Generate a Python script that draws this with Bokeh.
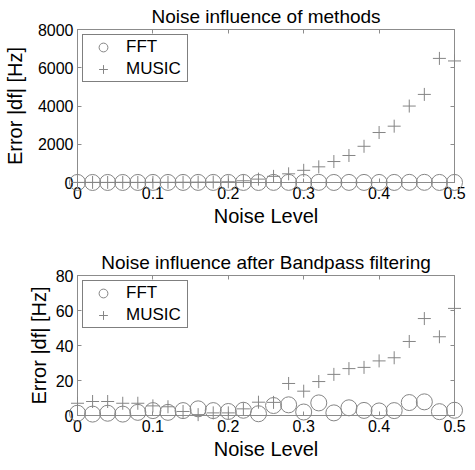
from bokeh.plotting import figure
from bokeh.models import Range1d, LinearAxis, FixedTicker, Legend, LegendItem, NumeralTickFormatter
from bokeh.layouts import column
from bokeh.embed import file_html
from bokeh.resources import INLINE

noise_level = [0.00, 0.02, 0.04, 0.06, 0.08, 0.10, 0.12, 0.14, 0.16, 0.18, 0.20, 0.22, 0.24,
               0.26, 0.28, 0.30, 0.32, 0.34, 0.36, 0.38, 0.40, 0.42, 0.44, 0.46, 0.48, 0.50]

fft_raw = [2, 1, 2, 1, 3, 4, 3, 4, 5, 4, 3, 4, 2, 6, 7, 3, 8, 2, 5, 4, 3, 4, 8, 9, 3, 4]
music_raw = [5, 8, 6, 10, 7, 12, 9, 15, 20, 25, 40, 90, 177, 321, 454, 637, 819, 1096,
             1412, 1893, 2613, 2945, 3997, 4606, 6489, 6356]

fft_bp = [1.3, 0.8, 1.3, 0.8, 1.8, 2.8, 1.8, 2.8, 3.8, 2.8, 2.3, 3.0, 1.0, 5.7, 6.1, 2.0,
          7.2, 1.5, 4.4, 2.9, 2.6, 2.8, 7.4, 7.8, 2.2, 3.0]
music_bp = [7, 8, 8, 7, 7, 5.5, 5, 2.3, 0.5, 1.5, 1.5, 3.8, 7.6, 7.5, 18.3, 13.9, 19.4, 23.5,
            26.8, 27.5, 31.2, 33, 42.3, 55.4, 45, 61.2]

x_ticks = [0, 0.1, 0.2, 0.3, 0.4, 0.5]
y_ticks_raw = [0, 2000, 4000, 6000, 8000]
y_ticks_bp = [0, 20, 40, 60, 80]

title_raw = "Noise influence of methods"
title_bp = "Noise influence after Bandpass filtering"
x_label = "Noise Level"
y_label = "Error |df| [Hz]"
series_names = ["FFT", "MUSIC"]

FONT = "Liberation Sans"
GRAY = "#858585"
FRAME = "#8c8c8c"


def style_axis(ax, ticks, show_labels=True, label=None, label_standoff=4):
    ax.ticker = FixedTicker(ticks=ticks)
    ax.major_tick_in = 4
    ax.major_tick_out = 0
    ax.minor_tick_in = 0
    ax.minor_tick_out = 0
    ax.major_tick_line_color = FRAME
    ax.axis_line_color = FRAME
    if show_labels:
        ax.major_label_text_font = FONT
        ax.major_label_text_font_size = "16px"
        ax.major_label_text_color = "black"
        ax.major_label_standoff = 4
        ax.formatter = NumeralTickFormatter(format="0.[0]")
    else:
        ax.major_label_text_color = None
        ax.major_label_standoff = 0
    if label:
        ax.axis_label = label
        ax.axis_label_text_font = FONT
        ax.axis_label_text_font_size = "20px"
        ax.axis_label_text_font_style = "normal"
        ax.axis_label_text_color = "black"
        ax.axis_label_standoff = label_standoff


def make_plot(title, fft, music, yticks, height, top_border, bottom_border, ylab_standoff):
    p = figure(width=467, height=height, output_backend="svg", toolbar_location=None,
               x_range=Range1d(x_ticks[0], x_ticks[-1]), y_range=Range1d(yticks[0], yticks[-1]),
               min_border_left=69, min_border_right=13,
               min_border_top=top_border, min_border_bottom=bottom_border,
               title=title)
    p.title.align = "center"
    p.title.text_font = FONT
    p.title.text_font_size = "19px"
    p.title.text_font_style = "normal"
    p.title.text_color = "black"
    p.title.standoff = 6
    p.grid.visible = False
    p.outline_line_color = FRAME
    p.background_fill_color = "white"
    p.border_fill_color = "white"

    style_axis(p.xaxis[0], x_ticks, True, x_label, 3)
    style_axis(p.yaxis[0], yticks, True, y_label, ylab_standoff)
    top_ax = LinearAxis()
    style_axis(top_ax, x_ticks, False)
    right_ax = LinearAxis()
    style_axis(right_ax, yticks, False)
    p.add_layout(top_ax, "above")
    p.add_layout(right_ax, "right")

    r1 = p.scatter(noise_level, fft, marker="circle", size=16, fill_color=None,
                   line_color=GRAY, line_width=1)
    r2 = p.scatter(noise_level, music, marker="cross", size=13,
                   line_color=GRAY, line_width=1)
    r1.level = "overlay"
    r2.level = "overlay"

    legend = Legend(items=[LegendItem(label=series_names[0], renderers=[r1]),
                           LegendItem(label=series_names[1], renderers=[r2])],
                    location="top_left")
    legend.margin = 5
    legend.padding = 1
    legend.spacing = 0
    legend.glyph_width = 38
    legend.glyph_height = 22
    legend.label_height = 22
    legend.label_width = 60
    legend.label_standoff = 4
    legend.label_text_font = FONT
    legend.label_text_font_size = "17px"
    legend.label_text_color = "black"
    legend.border_line_color = "#7f7f7f"
    legend.border_line_width = 1
    legend.border_line_alpha = 1
    legend.background_fill_color = "white"
    legend.background_fill_alpha = 1
    p.add_layout(legend)
    return p


p1 = make_plot(title_raw, fft_raw, music_raw, y_ticks_raw, 230, 29, 48, 9)
p2 = make_plot(title_bp, fft_bp, music_bp, y_ticks_bp, 232, 45, 43, 3)

layout = column(p1, p2, spacing=0)
open("out.html", "w").write(file_html(layout, INLINE))
